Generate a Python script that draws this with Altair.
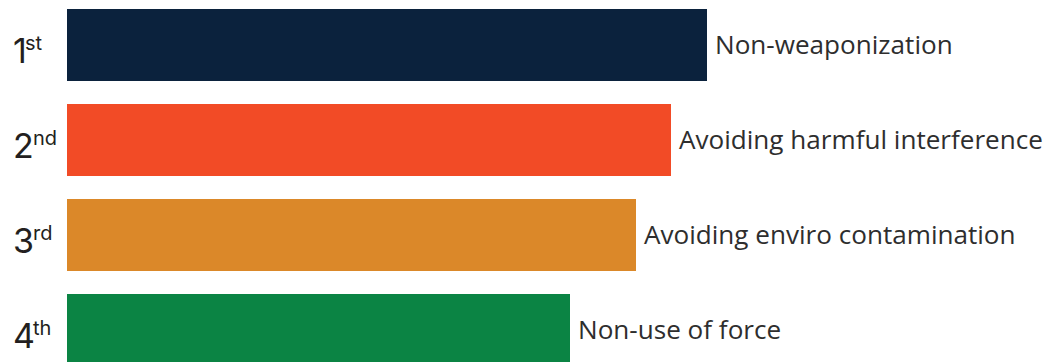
import altair as alt
import pandas as pd

ranks = ["1", "2", "3", "4"]
suffixes = ["st", "nd", "rd", "th"]
labels = ["Non-weaponization", "Avoiding harmful interference",
          "Avoiding enviro contamination", "Non-use of force"]
scores = [640, 604, 569, 503]
colors = ["#0B223D", "#F24B26", "#DB8829", "#0B8444"]

df = pd.DataFrame({"rank": ranks, "suffix": suffixes, "label": labels,
                   "score": scores, "color": colors})

y = alt.Y("rank:N", sort=ranks, axis=None,
          scale=alt.Scale(paddingInner=0.2421, paddingOuter=0.0105))
x = alt.X("score:Q", axis=None, scale=alt.Scale(domain=[0, 981], nice=False, zero=True))

bars = alt.Chart(df).mark_bar().encode(
    x=x, y=y, color=alt.Color("color:N", scale=None))

text = alt.Chart(df).mark_text(align="left", baseline="middle", dx=8, dy=1,
                               font="Open Sans", fontSize=26.1, color="#2E2E2E").encode(
    x=x, y=y, text="label:N")

num = alt.Chart(df).mark_text(align="left", baseline="alphabetic", dy=18,
                              font="Inter", fontSize=34, color="#231F20").encode(
    x=alt.value(-54), y=y, text="rank:N")

suf = alt.Chart(df).mark_text(align="left", baseline="alphabetic", dy=5,
                              dx=alt.expr("datum.rank == '1' ? 12 : 20"),
                              font="Inter", fontSize=20, color="#231F20").encode(
    x=alt.value(-54), y=y, text="suffix:N")

chart = alt.layer(bars, text, num, suf).properties(
    width=981, height=359,
    padding={"left": 59, "top": 0, "right": 0, "bottom": 0},
    autosize=alt.AutoSizeParams(type="none"),
).configure_view(stroke=None)

chart.save("out.html", embed_options={"renderer": "svg", "actions": False})
